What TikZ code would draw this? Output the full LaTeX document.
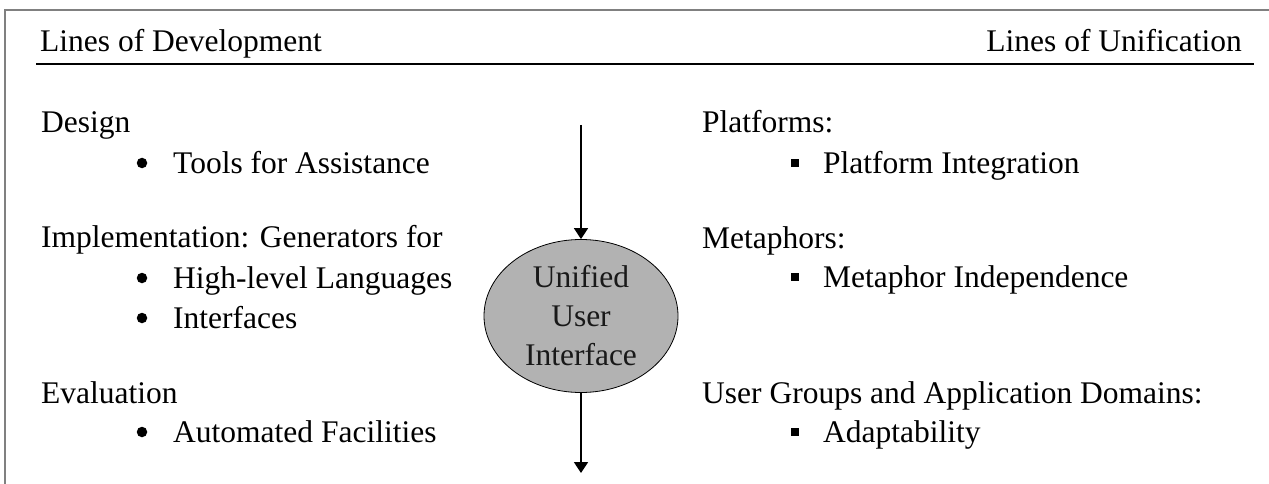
\documentclass[tikz,border=0pt]{standalone}
\usepackage{fontspec}
\setmainfont{Liberation Serif}
\usetikzlibrary{arrows.meta,shapes.geometric}
\tikzset{
  txt/.style={anchor=base west, inner sep=0pt, font=\fontsize{31.5}{39}\selectfont},
  txtr/.style={anchor=base east, inner sep=0pt, font=\fontsize{31.5}{39}\selectfont},
  dotbul/.style={circle, fill=black, inner sep=0pt, minimum size=10.5pt},
  sqbul/.style={rectangle, fill=black, inner sep=0pt, minimum width=8.5pt, minimum height=8pt},
  frameline/.style={draw=gray, line width=1.5pt},
  flowarrow/.style={draw=black, line width=1.8pt, -{Triangle[width=14pt,length=11pt]}},
  hub/.style={ellipse, draw=black, line width=0.8pt, fill=black!30, minimum width=194pt, minimum height=153pt, inner sep=0pt, align=center, text=black!90, font=\fontsize{31.5}{39}\selectfont}
}
\begin{document}
\begin{tikzpicture}[x=1pt,y=-1pt]
\useasboundingbox (0,0) rectangle (1269,484);
% frame
\draw[frameline] (5,484) -- (5,10) -- (1270,10);
% header
\node[txt] (hdev) at (40,52) {Lines of Development};
\node[txtr] (huni) at (1242,52) {Lines of Unification};
\draw[line width=2pt] (36,64) -- (1254,64);
% left column
\node[txt] (design) at (41,133) {Design};
\node[dotbul] (b1) at (142,163) {};
\node[txt] (tools) at (173,173) {Tools for Assistance};
\node[txt] (impl) at (41,247) {Implementation: Generators for};
\node[dotbul] (b2) at (142,278) {};
\node[txt] (hll) at (173,288) {High-level Languages};
\node[dotbul] (b3) at (142,318) {};
\node[txt] (intf) at (173,328) {Interfaces};
\node[txt] (eval) at (41,403) {Evaluation};
\node[dotbul] (b4) at (142,432) {};
\node[txt] (auto) at (173,442) {Automated Facilities};
% right column
\node[txt] (plat) at (702,132) {Platforms:};
\node[sqbul] (s1) at (795,163) {};
\node[txt] (pint) at (823,173) {Platform Integration};
\node[txt] (meta) at (702,248) {Metaphors:};
\node[sqbul] (s2) at (795,277) {};
\node[txt] (mind) at (823,287) {Metaphor Independence};
\node[txt] (ugrp) at (702,403) {User Groups and Application Domains:};
\node[sqbul] (s3) at (795,432) {};
\node[txt] (adap) at (823,442) {Adaptability};
% centre
\node[hub] (uui) at (581,316) {Unified\\User\\Interface};
\coordinate (topstart) at (581,125);
\coordinate (botend) at (581,473);
\draw[flowarrow] (topstart) -- (uui.north);
\draw[flowarrow] (uui.south) -- (botend);
\end{tikzpicture}
\end{document}
